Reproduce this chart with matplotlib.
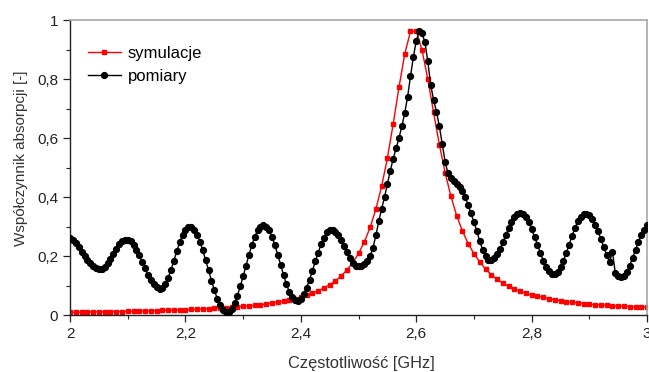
import matplotlib.pyplot as plt
from matplotlib.ticker import MultipleLocator, FuncFormatter
import numpy as np

plt.rcParams['font.family'] = ['Liberation Sans', 'DejaVu Sans']

# symulacje: 2.00 .. 3.00 GHz, step 0.01
freq_sim = np.round(np.arange(2.0, 3.0001, 0.01), 3)
sim = [
    0.009, 0.010, 0.010, 0.010, 0.011, 0.011, 0.011, 0.012, 0.012, 0.012,
    0.013, 0.013, 0.014, 0.014, 0.015, 0.015, 0.016, 0.016, 0.017, 0.018,
    0.018, 0.019, 0.020, 0.021, 0.022, 0.023, 0.024, 0.025, 0.027, 0.028,
    0.030, 0.031, 0.033, 0.035, 0.038, 0.041, 0.044, 0.047, 0.051, 0.056,
    0.061, 0.067, 0.074, 0.082, 0.092, 0.103, 0.116, 0.133, 0.153, 0.178,
    0.209, 0.248, 0.297, 0.359, 0.437, 0.533, 0.648, 0.772, 0.885, 0.962,
    0.963, 0.898, 0.800, 0.687, 0.578, 0.483, 0.403, 0.337, 0.285, 0.242,
    0.208, 0.180, 0.156, 0.137, 0.121, 0.108, 0.097, 0.088, 0.081, 0.074,
    0.068, 0.064, 0.060, 0.056, 0.052, 0.049, 0.046, 0.043, 0.041, 0.039,
    0.037, 0.035, 0.034, 0.033, 0.032, 0.031, 0.030, 0.029, 0.028, 0.028,
    0.027,
]

# pomiary: 2.000 .. 3.000 GHz, step 0.005
freq_meas = np.round(np.arange(2.0, 3.0001, 0.005), 3)
meas = [
    0.263, 0.254, 0.243, 0.230, 0.215, 0.201, 0.187, 0.175, 0.165, 0.159,
    0.155, 0.156, 0.163, 0.175, 0.190, 0.208, 0.225, 0.240, 0.251, 0.256,
    0.256, 0.250, 0.238, 0.222, 0.202, 0.180, 0.158, 0.137, 0.118, 0.104,
    0.094, 0.090, 0.093, 0.106, 0.127, 0.154, 0.185, 0.217, 0.248, 0.273,
    0.290, 0.299, 0.299, 0.289, 0.272, 0.249, 0.219, 0.186, 0.152, 0.117,
    0.085, 0.056, 0.034, 0.018, 0.011, 0.012, 0.022, 0.040, 0.066, 0.097,
    0.132, 0.168, 0.204, 0.237, 0.265, 0.287, 0.300, 0.305, 0.300, 0.287,
    0.265, 0.237, 0.204, 0.170, 0.135, 0.104, 0.079, 0.060, 0.050, 0.049,
    0.056, 0.071, 0.093, 0.120, 0.150, 0.182, 0.212, 0.240, 0.263, 0.280,
    0.289, 0.289, 0.283, 0.271, 0.254, 0.234, 0.213, 0.194, 0.178, 0.168,
    0.165, 0.168, 0.174, 0.184, 0.200, 0.228, 0.270, 0.318, 0.360, 0.400,
    0.445, 0.490, 0.530, 0.565, 0.600, 0.640, 0.685, 0.740, 0.810, 0.875,
    0.930, 0.962, 0.955, 0.925, 0.860, 0.780, 0.730, 0.690, 0.640, 0.580,
    0.520, 0.480, 0.465, 0.455, 0.445, 0.435, 0.420, 0.400, 0.372, 0.345,
    0.315, 0.285, 0.250, 0.222, 0.200, 0.188, 0.186, 0.193, 0.206, 0.225,
    0.247, 0.271, 0.295, 0.316, 0.333, 0.343, 0.347, 0.343, 0.332, 0.315,
    0.292, 0.265, 0.237, 0.210, 0.185, 0.164, 0.148, 0.140, 0.140, 0.147,
    0.162, 0.184, 0.210, 0.239, 0.268, 0.295, 0.318, 0.334, 0.343, 0.344,
    0.338, 0.326, 0.307, 0.284, 0.258, 0.231, 0.204, 0.179, 0.215, 0.142,
    0.131, 0.128, 0.131, 0.145, 0.168, 0.195, 0.222, 0.248, 0.272, 0.290,
    0.305,
]

fig = plt.figure(figsize=(6.49, 3.72), dpi=100)
ax = fig.add_axes([0.108, 0.153, 0.889, 0.793])

ax.plot(freq_sim, sim, color='#ff0000', lw=1.0, marker='s', ms=3.3,
        mec='#ff0000', mfc='#ff0000', label='symulacje', zorder=2)
ax.plot(freq_meas, meas, color='black', lw=1.0, marker='o', ms=4.2,
        mec='black', mfc='black', label='pomiary', zorder=3)

ax.set_xlim(2, 3)
ax.set_ylim(0, 1)
ax.xaxis.set_major_locator(MultipleLocator(0.2))
ax.xaxis.set_minor_locator(MultipleLocator(0.1))
ax.yaxis.set_major_locator(MultipleLocator(0.2))
ax.yaxis.set_minor_locator(MultipleLocator(0.1))

comma = FuncFormatter(lambda v, p: ('%g' % round(v, 2)).replace('.', ','))
ax.xaxis.set_major_formatter(comma)
ax.yaxis.set_major_formatter(comma)

ax.tick_params(which='both', direction='out', top=False, right=False,
               labelsize=11, colors='#222222')
ax.tick_params(which='major', length=5, width=0.9)
ax.tick_params(which='minor', length=3, width=0.8)

for side in ('top', 'right'):
    ax.spines[side].set_color('#a8a8a8')
    ax.spines[side].set_linewidth(1.2)
for side in ('left', 'bottom'):
    ax.spines[side].set_color('#222222')
    ax.spines[side].set_linewidth(1.0)

ax.set_xlabel('Częstotliwość [GHz]', fontsize=11.8, color='#333333')
ax.set_ylabel('Współczynnik absorpcji [-]', fontsize=11, color='#333333')
ax.xaxis.set_label_coords(0.504, -0.14)
ax.yaxis.set_label_coords(-0.073, 0.532)

ax.legend(loc='upper left', frameon=False, fontsize=12, handlelength=2.0,
          handletextpad=0.4, labelspacing=0.48, borderaxespad=0.0,
          bbox_to_anchor=(0.019, 0.936))

fig.savefig('out.png', dpi=100)
